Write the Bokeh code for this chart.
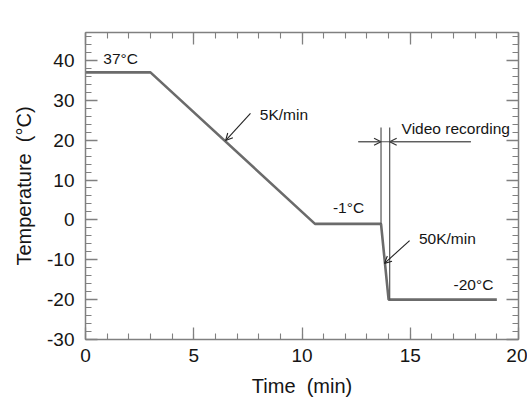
from bokeh.plotting import figure
from bokeh.models import LinearAxis, SingleIntervalTicker, Arrow, OpenHead, Range1d, CustomJSTickFormatter
from bokeh.core.properties import value
from bokeh.embed import file_html
from bokeh.resources import INLINE

# temperature profile
time_min = [0, 3, 10.6, 13.65, 14.0, 19.0]
temp_c = [37, 37, -1, -1, -20, -20]

# video recording window
video_start = 13.65
video_end = 14.05
video_top = 23.2
video_bottom = [-1, -20]
video_arrow_y = 19.6
video_arrow_left = 12.6
video_arrow_right = 17.8

# annotations
left_labels = ["5K/min", "50K/min", "Video recording"]
left_x = [8.05, 15.4, 14.6]
left_y = [26.5, -4.7, 23.0]
center_labels = ["37°C", "-1°C", "-20°C"]
center_x = [1.62, 12.15, 17.92]
center_y = [40.4, 3.1, -16.2]

# rate arrows (tail -> tip)
arrow_x0 = [7.62, 14.97]
arrow_y0 = [26.7, -5.2]
arrow_x1 = [6.47, 13.81]
arrow_y1 = [19.9, -10.9]

FONT = "Liberation Sans"
GRAY = "#808080"
TXT = "#151515"

p = figure(width=527, height=400, x_range=Range1d(0, 20), y_range=Range1d(-30, 47),
           output_backend="svg", toolbar_location=None,
           x_axis_type=None, y_axis_type=None,
           min_border_left=85, min_border_right=9, min_border_top=32, min_border_bottom=61)
p.outline_line_color = None
p.background_fill_color = "white"
p.border_fill_color = "white"

hyphen_fmt = "return String(tick);"

def style(ax, labels=True):
    ax.axis_line_color = GRAY
    ax.axis_line_width = 1.5
    ax.major_tick_line_color = GRAY
    ax.minor_tick_line_color = GRAY
    ax.major_tick_line_width = 1.3
    ax.minor_tick_line_width = 1.1
    ax.major_tick_in = 12
    ax.major_tick_out = 0
    ax.minor_tick_in = 6
    ax.minor_tick_out = 0
    ax.major_label_text_font = FONT
    ax.axis_label_text_font = FONT
    ax.axis_label_text_font_style = "normal"
    ax.major_label_text_color = TXT
    ax.axis_label_text_color = TXT
    ax.formatter = CustomJSTickFormatter(code=hyphen_fmt)
    if labels:
        ax.major_label_text_font_size = "19px"
        ax.axis_label_text_font_size = "20px"
    else:
        ax.major_label_text_font_size = "8px"
        ax.major_label_text_color = None
        ax.major_label_standoff = 0

xt = SingleIntervalTicker(interval=5, num_minor_ticks=5)
yt = SingleIntervalTicker(interval=10, num_minor_ticks=5)

xb = LinearAxis(ticker=xt, axis_label="Time\u00a0\u00a0(min)")
style(xb)
xb.major_label_standoff = 9
xb.axis_label_standoff = 10
p.add_layout(xb, "below")

yl = LinearAxis(ticker=yt, axis_label="Temperature\u00a0\u00a0(°C)")
style(yl)
yl.major_label_standoff = 11
yl.axis_label_standoff = 9
p.add_layout(yl, "left")

xa = LinearAxis(ticker=SingleIntervalTicker(interval=5, num_minor_ticks=5))
style(xa, labels=False)
p.add_layout(xa, "above")

yr = LinearAxis(ticker=SingleIntervalTicker(interval=10, num_minor_ticks=5))
style(yr, labels=False)
p.add_layout(yr, "right")

# profile line
p.line(time_min, temp_c, line_color="#6b6b6b", line_width=2.6)

# video recording markers
p.segment(x0=[video_start, video_end], y0=[video_top, video_top],
          x1=[video_start, video_end], y1=video_bottom,
          line_color="#555555", line_width=1.2)
p.segment(x0=[video_arrow_left], y0=[video_arrow_y], x1=[video_arrow_right], y1=[video_arrow_y],
          line_color="#555555", line_width=1.2)
p.add_layout(Arrow(end=OpenHead(size=7, line_color="#333333", line_width=1.2),
                   x_start=video_arrow_left, y_start=video_arrow_y,
                   x_end=video_start, y_end=video_arrow_y,
                   line_color="#555555", line_width=1.2))
p.add_layout(Arrow(end=OpenHead(size=7, line_color="#333333", line_width=1.2),
                   x_start=video_arrow_right, y_start=video_arrow_y,
                   x_end=video_end, y_end=video_arrow_y,
                   line_color="#555555", line_width=1.2))

# rate arrows
for xs, ys, xe, ye in zip(arrow_x0, arrow_y0, arrow_x1, arrow_y1):
    p.add_layout(Arrow(end=OpenHead(size=7, line_color="#222222", line_width=1.1),
                       x_start=xs, y_start=ys, x_end=xe, y_end=ye,
                       line_color="#222222", line_width=1.1))

p.text(x=left_x, y=left_y, text=left_labels, text_font=value(FONT), text_font_size="15.5px",
       text_align="left", text_baseline="middle", text_color=TXT)
p.text(x=center_x, y=center_y, text=center_labels, text_font=value(FONT), text_font_size="15.5px",
       text_align="center", text_baseline="middle", text_color=TXT)

open("out.html", "w").write(file_html(p, INLINE))
